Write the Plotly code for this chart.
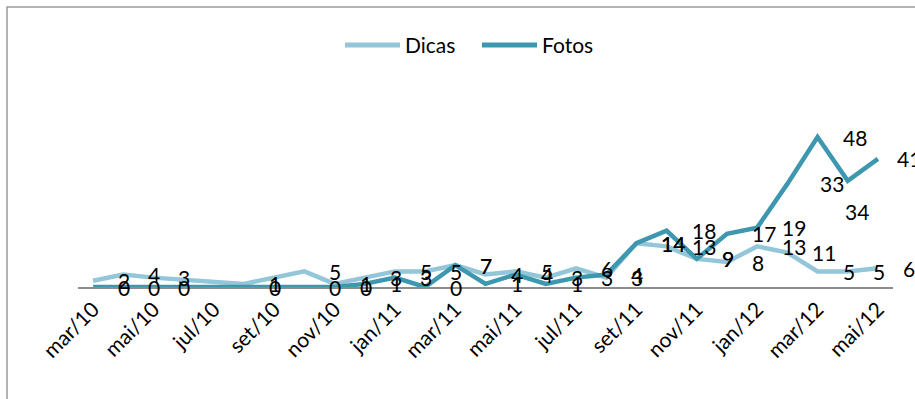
import plotly.graph_objects as go

# Monthly counts, mar/10 .. mai/12 (None = month without a record)
months = ["mar/10", "abr/10", "mai/10", "jun/10", "jul/10", "ago/10", "set/10",
          "out/10", "nov/10", "dez/10", "jan/11", "fev/11", "mar/11", "abr/11",
          "mai/11", "jun/11", "jul/11", "ago/11", "set/11", "out/11", "nov/11",
          "dez/11", "jan/12", "fev/12", "mar/12", "abr/12", "mai/12"]
dicas = [2, 4, 3, None, None, 1, None, 5, 1, 3, 5, 5, 7, 4, 5, 3, 6, 3,
         14, 13, 9, 8, 13, 11, 5, 5, 6]
fotos = [0, 0, 0, None, None, 0, None, 0, 0, 1, 3, 0, 7, 1, 4, 1, 3, 4,
         14, 18, 9, 17, 19, 33, 48, 34, 41]
tick_months = months[::2]

DICAS_COLOR = "#93C6D8"
FOTOS_COLOR = "#3D97AE"
FONT = "Lato"
FS = 21

W, H = 915, 399
ML, MR, MT, MB = 78, 22, 100, 112
PW, PH = W - ML - MR, H - MT - MB


def px_x(px):
    return (px - ML) / PW


def px_y(py):
    return (H - MB - py) / PH


series = [("Dicas", dicas, DICAS_COLOR), ("Fotos", fotos, FOTOS_COLOR)]

fig = go.Figure()
for name, vals, color in series:
    fig.add_trace(go.Scatter(
        x=months, y=vals, name=name, mode="lines", connectgaps=True,
        line=dict(color=color, width=4.5), showlegend=False,
    ))

# value labels sit to the right of each point; a few are moved by hand
label_nudge = {("Fotos", 25): (-28, -31), ("Fotos", 23): (8, 0),
               ("Fotos", 26): (-6, 0)}
annotations = []
for name, vals, color in series:
    for i, v in enumerate(vals):
        if v is None:
            continue
        dx, dy = label_nudge.get((name, i), (0, 0))
        annotations.append(dict(
            x=months[i], y=v, xref="x", yref="y", text=str(v), showarrow=False,
            xanchor="left", yanchor="middle", xshift=23 + dx, yshift=dy,
            font=dict(family=FONT, size=FS, color="#000000"),
        ))

# legend drawn across the top
shapes = []
legend_y = px_y(45)
for (name, vals, color), (x0, x1) in zip(series, [(345, 400), (482, 537)]):
    shapes.append(dict(type="line", xref="paper", yref="paper",
                       x0=px_x(x0), x1=px_x(x1), y0=legend_y, y1=legend_y,
                       line=dict(color=color, width=5)))
    annotations.append(dict(
        x=px_x(x1 + 3), y=legend_y, xref="paper", yref="paper", text=name,
        showarrow=False, xanchor="left", yanchor="middle",
        font=dict(family=FONT, size=FS, color="#000000"),
    ))

# chart border
shapes.append(dict(type="rect", xref="paper", yref="paper",
                   x0=px_x(7), x1=px_x(W + 20), y0=px_y(H + 20), y1=px_y(7),
                   line=dict(color="#9A9A9A", width=1.5), layer="below"))

fig.update_layout(
    width=W, height=H,
    margin=dict(l=ML, r=MR, t=MT, b=MB, pad=0),
    paper_bgcolor="white", plot_bgcolor="white",
    font=dict(family=FONT, size=FS, color="#000000"),
    annotations=annotations, shapes=shapes,
    xaxis=dict(
        type="category", categoryorder="array", categoryarray=months,
        range=[-0.5, len(months) - 0.5],
        tickmode="array", tickvals=tick_months, ticktext=tick_months,
        tickangle=-45, showgrid=False, zeroline=False,
        showline=True, linecolor="#8C8C8C", linewidth=1.5, ticks="",
        tickfont=dict(family=FONT, size=FS, color="#000000"),
    ),
    yaxis=dict(range=[0, PH / 3.125], visible=False, showgrid=False,
               zeroline=False),
)

fig.write_html("out.html")
